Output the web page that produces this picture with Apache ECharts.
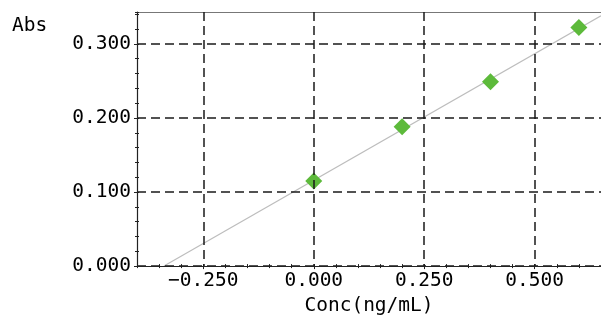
<!DOCTYPE html>
<html><head><meta charset="utf-8">
<script src="https://cdn.jsdelivr.net/npm/echarts@6/dist/echarts.min.js"></script>
<style>html,body{margin:0;padding:0;background:#fff}#c{width:601px;height:321px}</style>
</head><body><div id="c"></div>
<script>
// data
const concValues = [0.0, 0.2, 0.4, 0.6];
const absValues = [0.115, 0.188, 0.249, 0.322];
// calibration (fit) line end points
const fitLineX = [-0.339, 0.65];
const fitLineY = [0.0, 0.338];
const xTickValues = [-0.25, 0.0, 0.25, 0.5];
const yTickValues = [0.0, 0.1, 0.2, 0.3];
const xRange = [-0.4, 0.65];
const yRange = [0, 0.343];

const FONT = 'DejaVu Sans Mono';
const FS = 19.5;
const chart = echarts.init(document.getElementById('c'), null, {renderer: 'canvas'});
const pts = concValues.map((x, i) => [x, absValues[i]]);
const fit = fitLineX.map((x, i) => [x, fitLineY[i]]);
const dash = {color: '#1a1a1a', width: 1.5, type: [9, 5]};
const noShow = {show: false};
const hiddenLine = {show: false, onZero: false};
const fmt = v => (v < 0 ? '\u2212' : '') + Math.abs(v).toFixed(3);
chart.setOption({
  animation: false,
  grid: {left: 137, right: 0, top: 12, bottom: 51, containLabel: false},
  graphic: [{type: 'text', left: 12, top: 16, style: {text: 'Abs', font: FS + 'px "' + FONT + '"', fill: '#000'}}],
  xAxis: [
    {type: 'value', position: 'bottom', min: xRange[0], max: xRange[1], z: 5,
     axisLine: {onZero: false, lineStyle: {color: '#222', width: 1.2}},
     axisTick: {customValues: xTickValues, length: 3, lineStyle: {color: '#222'}},
     axisLabel: {customValues: xTickValues, margin: 5, color: '#000', fontFamily: FONT, fontSize: FS,
                 formatter: fmt},
     splitLine: {show: true, lineStyle: dash},
     name: 'Conc(ng/mL)', nameLocation: 'middle', nameGap: 28,
     nameTextStyle: {color: '#000', fontFamily: FONT, fontSize: FS}},
    {type: 'value', position: 'bottom', min: xRange[0], max: xRange[1], interval: 0.05,
     axisLine: hiddenLine, axisLabel: noShow, splitLine: noShow,
     axisTick: {inside: true, length: 2, lineStyle: {color: '#222'}}},
    {type: 'value', position: 'bottom', min: xRange[0], max: xRange[1], interval: 0.05,
     axisLine: hiddenLine, axisLabel: noShow, splitLine: noShow,
     axisTick: {inside: false, length: 2, lineStyle: {color: '#222'}}},
    {type: 'value', position: 'top', min: xRange[0], max: xRange[1],
     axisLine: {onZero: false, lineStyle: {color: '#777', width: 1.2}}, axisTick: noShow, axisLabel: noShow, splitLine: noShow}
  ],
  yAxis: [
    {type: 'value', position: 'left', min: yRange[0], max: yRange[1], interval: 0.1, z: 5,
     axisLine: {show: true, onZero: false, lineStyle: {color: '#222', width: 1.2}},
     axisTick: {show: true, customValues: yTickValues, length: 3, lineStyle: {color: '#222'}},
     axisLabel: {customValues: yTickValues, margin: 6, color: '#000', fontFamily: FONT, fontSize: FS,
                 formatter: fmt},
     splitLine: {show: true, lineStyle: dash}},
    {type: 'value', position: 'left', min: yRange[0], max: yRange[1], interval: 0.02,
     axisLine: hiddenLine, axisLabel: noShow, splitLine: noShow,
     axisTick: {show: true, inside: true, length: 2, lineStyle: {color: '#222'}}},
    {type: 'value', position: 'left', min: yRange[0], max: yRange[1], interval: 0.02,
     axisLine: hiddenLine, axisLabel: noShow, splitLine: noShow,
     axisTick: {show: true, inside: false, length: 2, lineStyle: {color: '#222'}}}
  ],
  series: [
    {type: 'line', data: fit, xAxisIndex: 0, yAxisIndex: 0, symbol: 'none', silent: true,
     lineStyle: {color: '#bdbdbd', width: 1.2}, z: 1},
    {type: 'scatter', data: pts, xAxisIndex: 0, yAxisIndex: 0, symbol: 'diamond', symbolSize: [17, 17],
     itemStyle: {color: '#5dba3b', opacity: 1}, z: 2}
  ]
});
</script></body></html>
